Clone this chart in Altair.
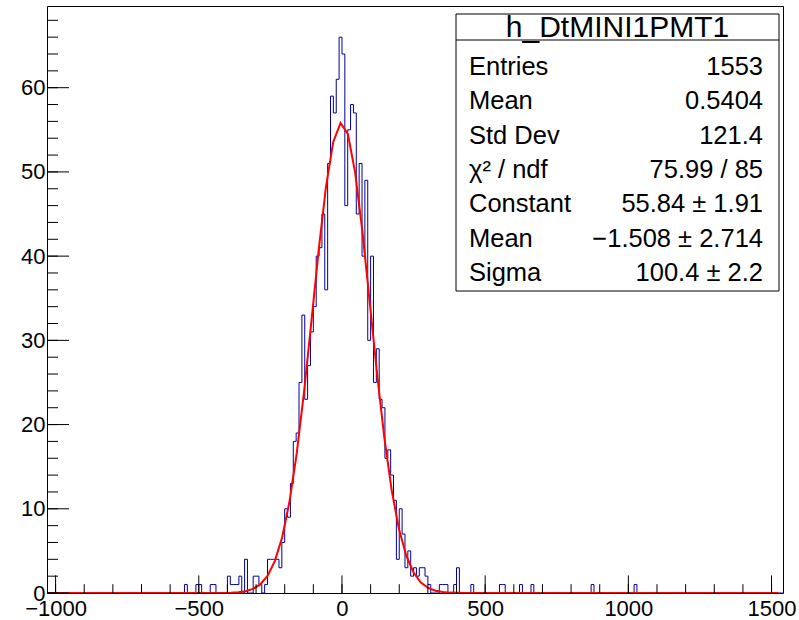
import altair as alt
import numpy as np
import pandas as pd

# ---------------- data ----------------
x_min, x_max = -1030, 1540
bin_width = 10
y_max = 69.7

# lower edges of the non-empty bins and their contents
bin_lo = [-550, -510, -500, -460, -450, -400, -390, -380, -370, -360,
          -340, -310, -300, -290, -270, -260, -250, -240, -230, -220,
          -210, -200, -190, -180, -170, -160, -150, -140, -130, -120,
          -110, -100, -90, -80, -70, -60, -50, -40, -30, -20,
          -10, 0, 10, 20, 30, 40, 50, 60, 70, 80,
          90, 100, 110, 120, 130, 140, 150, 160, 170, 180,
          190, 200, 210, 220, 230, 240, 250, 260, 270, 280,
          290, 300, 340, 350, 360, 390, 400, 450, 550, 560,
          620, 660, 870, 1020]
bin_count = [1, 1, 1, 1, 1, 2, 1, 1, 1, 2,
             4, 2, 2, 1, 1, 4, 4, 4, 4, 3,
             6, 10, 9, 13, 18, 19, 25, 33, 23, 27,
             31, 34, 40, 41, 45, 36, 51, 59, 57, 61,
             66, 64, 46, 55, 58, 57, 45, 51, 40, 49,
             30, 40, 25, 29, 23, 22, 16, 17, 14, 11,
             4, 10, 7, 3, 5, 2, 3, 2, 3, 3,
             2, 1, 1, 1, 1, 1, 3, 1, 1, 1,
             1, 1, 1, 1]

# Gaussian fit shown in the statistics box
fit_const, fit_mean, fit_sigma = 55.84, -1.508, 100.4
fit_lo, fit_hi = -1025, 1525

x_major = [-1000, -500, 0, 500, 1000, 1500]
x_minor = list(range(-1000, 1501, 100))
y_major = [0, 10, 20, 30, 40, 50, 60]
y_minor = list(range(0, 70, 2))

stats_title = "h_DtMINI1PMT1"
stats_labels = ["Entries", "Mean", "Std Dev", "\u03c7\u00b2 / ndf", "Constant", "Mean", "Sigma"]
stats_values = ["1553", "0.5404", "121.4", "75.99 / 85", "55.84 \u00b1 1.91",
                "\u22121.508 \u00b1 2.714", "100.4 \u00b1 2.2"]

# ---------------- tables built from the data ----------------
edges = np.arange(x_min, x_max + bin_width, bin_width)
lookup = dict(zip(bin_lo, bin_count))
counts = [lookup.get(int(e), 0) for e in edges[:-1]]
hist_df = pd.DataFrame({"x": edges, "n": counts + [counts[-1]]})

fx = np.linspace(fit_lo, fit_hi, 101)
fit_df = pd.DataFrame({"x": fx,
                       "f": fit_const * np.exp(-0.5 * ((fx - fit_mean) / fit_sigma) ** 2)})

W, H = 736, 587
FONT = "Liberation Sans"

xs = alt.Scale(domain=[x_min, x_max], nice=False, zero=False)
ys = alt.Scale(domain=[0, y_max], nice=False, zero=False)

x_axis = alt.Axis(
    values=x_major, format="d", ticks=False, domain=False, grid=False, title=None,
    labelFont=FONT, labelFontSize=22, labelColor="black", labelPadding=5,
    labelFlush=False, labelOverlap=False, labelBound=False)
y_axis = alt.Axis(
    values=y_major, format="d", ticks=False, domain=False, grid=False, title=None,
    labelFont=FONT, labelFontSize=22, labelColor="black", labelPadding=2,
    labelFlush=False, labelOverlap=False, labelBound=False)


def X(f):
    return alt.X(f, scale=xs, axis=x_axis, title=None)


def Y(f):
    return alt.Y(f, scale=ys, axis=y_axis, title=None)


hist = alt.Chart(hist_df).mark_line(
    interpolate="step-after", color="#000099", strokeWidth=1, clip=True
).encode(x=X("x:Q"), y=Y("n:Q"))

fit = alt.Chart(fit_df).mark_line(color="#ff0000", strokeWidth=2, clip=True).encode(
    x=X("x:Q"), y=Y("f:Q"))

xt_major = alt.Chart(pd.DataFrame({"v": x_major})).mark_rule(color="black", strokeWidth=1).encode(
    x=X("v:Q"), y=alt.value(H), y2=alt.value(H - 17.6))
xt_minor = alt.Chart(pd.DataFrame({"v": x_minor})).mark_rule(color="black", strokeWidth=1).encode(
    x=X("v:Q"), y=alt.value(H), y2=alt.value(H - 8.8))
yt_major = alt.Chart(pd.DataFrame({"v": y_major})).mark_rule(color="black", strokeWidth=1).encode(
    y=Y("v:Q"), x=alt.value(0), x2=alt.value(22))
yt_minor = alt.Chart(pd.DataFrame({"v": y_minor})).mark_rule(color="black", strokeWidth=1).encode(
    y=Y("v:Q"), x=alt.value(0), x2=alt.value(11))

one = pd.DataFrame({"a": [0]})
box_l, box_r, box_t, box_b = 409, 732, 8, 285
box = alt.Chart(one).mark_rect(fill="white", stroke="black", strokeWidth=1).encode(
    x=alt.value(box_l), x2=alt.value(box_r), y=alt.value(box_t), y2=alt.value(box_b))
sep = alt.Chart(one).mark_rule(color="black", strokeWidth=1).encode(
    x=alt.value(box_l), x2=alt.value(box_r), y=alt.value(34))
title_t = alt.Chart(one).mark_text(
    text=stats_title, font=FONT, fontSize=30, color="black", align="center", baseline="middle"
).encode(x=alt.value((box_l + box_r) / 2), y=alt.value(21.5))

layers = [hist, fit, xt_major, xt_minor, yt_major, yt_minor, box, sep, title_t]
for i, (lab, val) in enumerate(zip(stats_labels, stats_values)):
    yy = 61 + 34.3 * i
    layers.append(alt.Chart(one).mark_text(
        text=lab, font=FONT, fontSize=25.5, color="black", align="left", baseline="middle"
    ).encode(x=alt.value(422), y=alt.value(yy)))
    layers.append(alt.Chart(one).mark_text(
        text=val, font=FONT, fontSize=25.5, color="black", align="right", baseline="middle"
    ).encode(x=alt.value(716), y=alt.value(yy)))

chart = alt.layer(*layers).properties(
    width=W, height=H,
    padding={"left": 47, "top": 6, "right": 16, "bottom": 27},
    autosize=alt.AutoSizeParams(type="none"),
    background="white",
).configure_view(stroke="black", strokeWidth=1)

chart.save("out.html", embed_options={"renderer": "svg", "actions": False})
